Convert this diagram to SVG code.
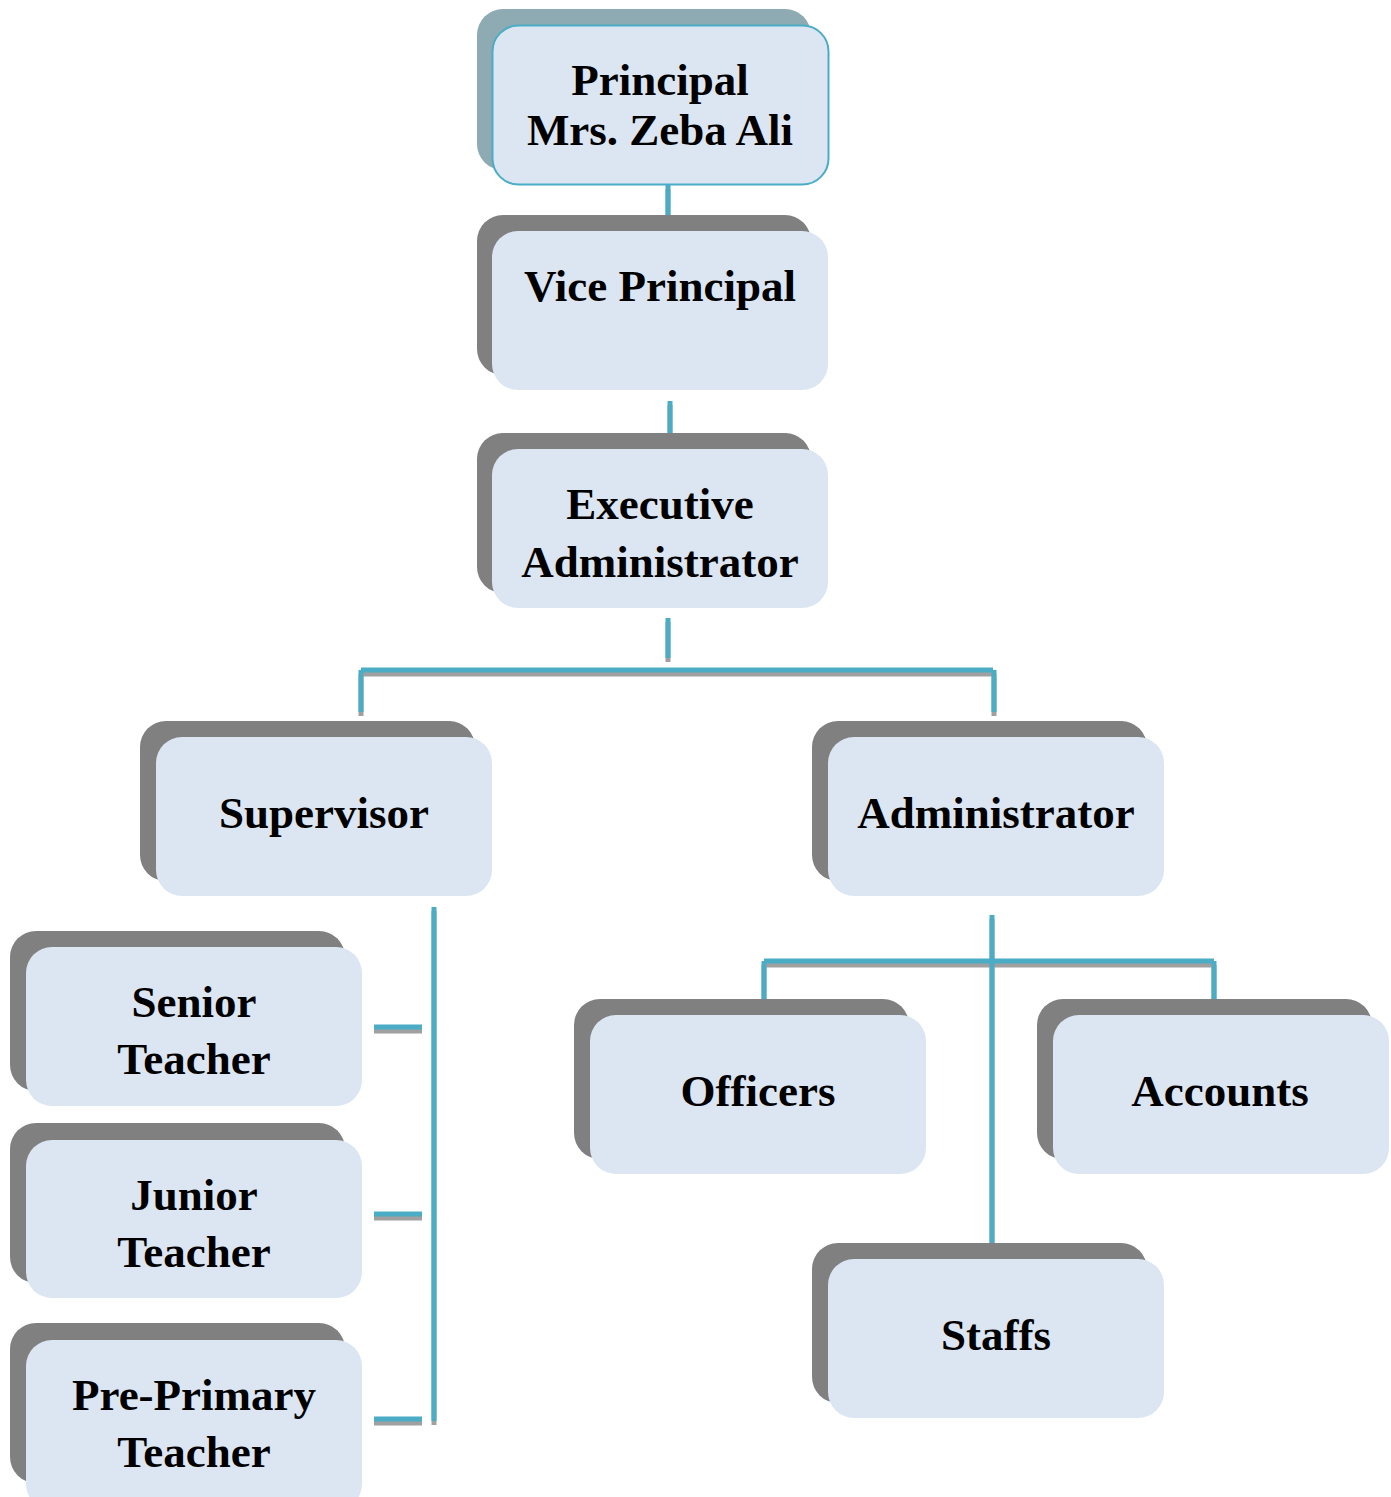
<svg xmlns="http://www.w3.org/2000/svg" width="1391" height="1497" viewBox="0 0 1391 1497">
<style>
.sh{fill:#808080}
.fr{fill:#dce6f2}
.t{font-family:"Liberation Serif","Times New Roman",serif;font-weight:bold;font-size:45px;fill:#000;text-anchor:middle}
.c{fill:none;stroke:#4bacc6;stroke-width:5}
.cs{fill:none;stroke:#a0a0a0;stroke-width:5}
</style>
<rect width="1391" height="1497" fill="#fff"/>
<g id="connectors">
  <g class="cs" transform="translate(0,4)">
    <path d="M668 185V220"/>
    <path d="M670 401V442"/>
    <path d="M668 618V658"/>
    <path d="M361 670H993M361 670V712M994 670V712"/>
    <path d="M434 907V1421"/>
    <path d="M374 1027H422M374 1214H422M374 1419H422"/>
    <path d="M992 915V1241"/>
    <path d="M764 961H1214M764 961V1000M1214 961V1000"/>
  </g>
  <g class="c">
    <path d="M668 185V220"/>
    <path d="M670 401V442"/>
    <path d="M668 618V658"/>
    <path d="M361 670H993M361 670V712M994 670V712"/>
    <path d="M434 907V1421"/>
    <path d="M374 1027H422M374 1214H422M374 1419H422"/>
    <path d="M992 915V1245"/>
    <path d="M764 961H1214M764 961V1000M1214 961V1000"/>
  </g>
</g>
<g id="principal">
  <rect x="477" y="9" width="334" height="161" rx="26" fill="#8eaab3"/>
  <rect x="492.5" y="25.5" width="336" height="159" rx="26" class="fr" stroke="#4bacc6" stroke-width="2"/>
  <text class="t" x="660" y="95">Principal</text>
  <text class="t" x="660" y="145">Mrs. Zeba Ali</text>
</g>
<g id="vice-principal">
  <rect x="477" y="215" width="334" height="160" rx="26" class="sh"/>
  <rect x="492" y="231" width="336" height="159" rx="26" class="fr"/>
  <text class="t" x="660" y="301">Vice Principal</text>
</g>
<g id="executive-administrator">
  <rect x="477" y="433" width="334" height="160" rx="26" class="sh"/>
  <rect x="492" y="449" width="336" height="159" rx="26" class="fr"/>
  <text class="t" x="660" y="519">Executive</text>
  <text class="t" x="660" y="577">Administrator</text>
</g>
<g id="supervisor">
  <rect x="140" y="721" width="335" height="160" rx="26" class="sh"/>
  <rect x="156" y="737" width="336" height="159" rx="26" class="fr"/>
  <text class="t" x="324" y="828">Supervisor</text>
</g>
<g id="administrator">
  <rect x="812" y="721" width="335" height="160" rx="26" class="sh"/>
  <rect x="828" y="737" width="336" height="159" rx="26" class="fr"/>
  <text class="t" x="996" y="828">Administrator</text>
</g>
<g id="senior-teacher">
  <rect x="10" y="931" width="335" height="160" rx="26" class="sh"/>
  <rect x="26" y="947" width="336" height="159" rx="26" class="fr"/>
  <text class="t" x="194" y="1017">Senior</text>
  <text class="t" x="194" y="1074">Teacher</text>
</g>
<g id="junior-teacher">
  <rect x="10" y="1123" width="335" height="160" rx="26" class="sh"/>
  <rect x="26" y="1140" width="336" height="158" rx="26" class="fr"/>
  <text class="t" x="194" y="1210">Junior</text>
  <text class="t" x="194" y="1267">Teacher</text>
</g>
<g id="pre-primary-teacher">
  <rect x="10" y="1323" width="335" height="160" rx="26" class="sh"/>
  <rect x="26" y="1340" width="336" height="170" rx="26" class="fr"/>
  <text class="t" x="194" y="1410">Pre-Primary</text>
  <text class="t" x="194" y="1467">Teacher</text>
</g>
<g id="officers">
  <rect x="574" y="999" width="335" height="160" rx="26" class="sh"/>
  <rect x="590" y="1015" width="336" height="159" rx="26" class="fr"/>
  <text class="t" x="758" y="1106">Officers</text>
</g>
<g id="accounts">
  <rect x="1037" y="999" width="335" height="160" rx="26" class="sh"/>
  <rect x="1053" y="1015" width="336" height="159" rx="26" class="fr"/>
  <text class="t" x="1220" y="1106">Accounts</text>
</g>
<g id="staffs">
  <rect x="812" y="1243" width="335" height="160" rx="26" class="sh"/>
  <rect x="828" y="1259" width="336" height="159" rx="26" class="fr"/>
  <text class="t" x="996" y="1350">Staffs</text>
</g>
</svg>
